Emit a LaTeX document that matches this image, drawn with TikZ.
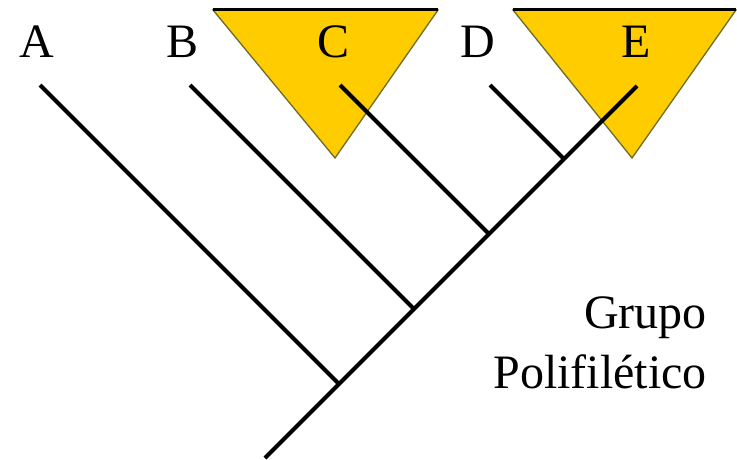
\documentclass[tikz,border=0pt]{standalone}
\usepackage{fontspec}
\setmainfont{Liberation Serif}
\definecolor{cladeyellow}{HTML}{FFCC00}
\definecolor{cladeedge}{HTML}{6B6B2A}
\begin{document}
\begin{tikzpicture}[x=1pt,y=-1pt,
  branch/.style={line width=4pt},
  clade/.style={fill=cladeyellow, draw=cladeedge, line width=1.3pt},
  cladetop/.style={line width=3pt, draw=black},
  lab/.style={font=\fontsize{48}{58}\selectfont, anchor=base, inner sep=0pt},
  note/.style={font=\fontsize{48}{58}\selectfont, anchor=base east, inner sep=0pt}]
\useasboundingbox (0,0) rectangle (737,460);
% clade triangles
\coordinate (c1) at (213,10); \coordinate (c2) at (438,10); \coordinate (c3) at (335,158);
\coordinate (e1) at (513,10); \coordinate (e2) at (736,10); \coordinate (e3) at (632,158);
\path[clade] (c1) -- (c2) -- (c3) -- cycle;
\path[clade] (e1) -- (e2) -- (e3) -- cycle;
\draw[cladetop] (c1) -- (c2);
\draw[cladetop] (e1) -- (e2);
% labels
\node[lab] (A) at (37,58) {A};
\node[lab] (B) at (183,58) {B};
\node[lab] (C) at (334,58) {C};
\node[lab] (D) at (478,58) {D};
\node[lab] (E) at (636,58) {E};
\node[note] (g1) at (707,328) {Grupo};
\node[note] (g2) at (707,388) {Polifilético};
% tree
\coordinate (tA) at (40,85);
\coordinate (tB) at (190,85);
\coordinate (tC) at (340,85);
\coordinate (tD) at (490,85);
\coordinate (tE) at (637,86);
\coordinate (root) at (265,458);
\coordinate (jA) at (339,384);
\coordinate (jB) at (414,309);
\coordinate (jC) at (489,234);
\coordinate (jD) at (564,159);
\draw[branch] (root) -- (tE);
\draw[branch] (tA) -- (jA);
\draw[branch] (tB) -- (jB);
\draw[branch] (tC) -- (jC);
\draw[branch] (tD) -- (jD);
\end{tikzpicture}
\end{document}
